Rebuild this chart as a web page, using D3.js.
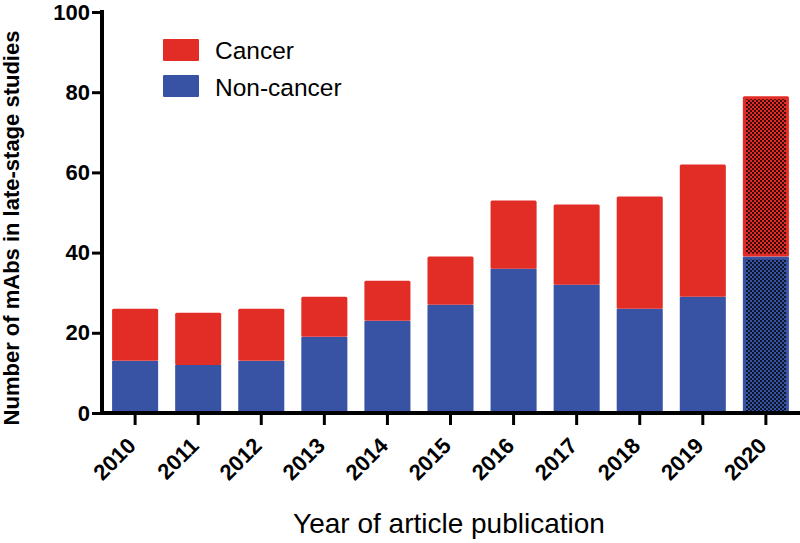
<!DOCTYPE html>
<html><head><meta charset="utf-8">
<script src="https://cdn.jsdelivr.net/npm/d3@7"></script>
<style>
body{margin:0;background:#fff;}
svg{display:block;font-family:"Liberation Sans",Arial,sans-serif;}
</style></head>
<body><svg id="c" width="800" height="543"></svg>
<script>
const years = ["2010","2011","2012","2013","2014","2015","2016","2017","2018","2019","2020"];
const nonCancer = [13,12,13,19,23,27,36,32,26,29,39];
const cancer = [13,13,13,10,10,12,17,20,28,33,40];
const seriesNames = ["Cancer","Non-cancer"];
const yTicks = [0,20,40,60,80,100];
const projected = ["2020"];

const RED = "#e22d27", BLUE = "#3953a4";
const svg = d3.select("#c");
const x = d3.scaleBand().domain(years).range([102, 799]).paddingInner(0.27).paddingOuter(0.16);
const y = d3.scaleLinear().domain([0,100]).range([413, 12]);

const defs = svg.append("defs");
[["pRed",RED],["pBlue",BLUE]].forEach(([id,c])=>{
  const p = defs.append("pattern").attr("id",id).attr("width",4).attr("height",4).attr("patternUnits","userSpaceOnUse");
  p.append("rect").attr("width",4).attr("height",4).attr("fill",c);
  p.append("rect").attr("width",2).attr("height",2).attr("fill","#000").attr("opacity",0.75);
  p.append("rect").attr("x",2).attr("y",2).attr("width",2).attr("height",2).attr("fill","#000").attr("opacity",0.75);
});

const data = years.map((yr,i)=>({yr, nc: nonCancer[i], c: cancer[i]}));
const g = svg.append("g");
data.forEach(d=>{
  const proj = projected.includes(d.yr);
  const bx = x(d.yr), bw = x.bandwidth();
  g.append("rect").attr("x",bx).attr("width",bw)
    .attr("y",y(d.nc)).attr("height",y(0)-y(d.nc))
    .attr("fill",BLUE);
  g.append("rect").attr("x",bx).attr("width",bw)
    .attr("y",y(d.nc+d.c)).attr("height",y(d.nc)-y(d.nc+d.c))
    .attr("fill",RED).attr("rx",1.5);
  if(proj){
    const inset = 3;
    g.append("rect").attr("x",bx+inset).attr("width",bw-2*inset)
      .attr("y",y(d.nc)+inset).attr("height",y(0)-y(d.nc)-inset)
      .attr("fill","url(#pBlue)");
    g.append("rect").attr("x",bx+inset).attr("width",bw-2*inset)
      .attr("y",y(d.nc+d.c)+inset).attr("height",y(d.nc)-y(d.nc+d.c)-2*inset)
      .attr("fill","url(#pRed)");
  }
});

// Y axis
const ya = svg.append("g").attr("transform","translate(102,0)")
  .call(d3.axisLeft(y).tickValues(yTicks).tickSize(10).tickPadding(2));
ya.select(".domain").attr("stroke","#000").attr("stroke-width",4).attr("d","M0,10V415");
ya.selectAll(".tick line").attr("stroke","#000").attr("stroke-width",3);
ya.selectAll(".tick text").attr("font-size",22).attr("font-weight","bold").attr("fill","#000")
  .attr("font-family","'Liberation Sans',Arial,sans-serif");

// X axis
const xa = svg.append("g").attr("transform","translate(0,413)")
  .call(d3.axisBottom(x).tickSize(12).tickPadding(0));
xa.select(".domain").attr("stroke","#000").attr("stroke-width",4).attr("d","M100,0H800");
xa.selectAll(".tick line").attr("stroke","#000").attr("stroke-width",3);
xa.selectAll(".tick text").attr("font-size",22).attr("font-weight","bold").attr("fill","#000")
  .attr("font-family","'Liberation Sans',Arial,sans-serif")
  .attr("text-anchor","end").attr("dy",0).attr("y",0)
  .attr("transform","translate(2,34) rotate(-45)");

// Titles
svg.append("text").attr("transform","translate(19,228) rotate(-90)")
  .attr("text-anchor","middle").attr("font-size",22).attr("font-weight","bold")
  .text("Number of mAbs in late-stage studies");
svg.append("text").attr("x",449).attr("y",533).attr("text-anchor","middle")
  .attr("font-size",28).text("Year of article publication");

// Legend
const legColors = [RED, BLUE];
seriesNames.forEach((n,i)=>{
  svg.append("rect").attr("x",163).attr("y",39+i*36).attr("width",36).attr("height",22)
    .attr("fill",legColors[i]).attr("rx",1);
  svg.append("text").attr("x",215).attr("y",59+i*37).attr("font-size",24.5).text(n);
});
</script></body></html>
